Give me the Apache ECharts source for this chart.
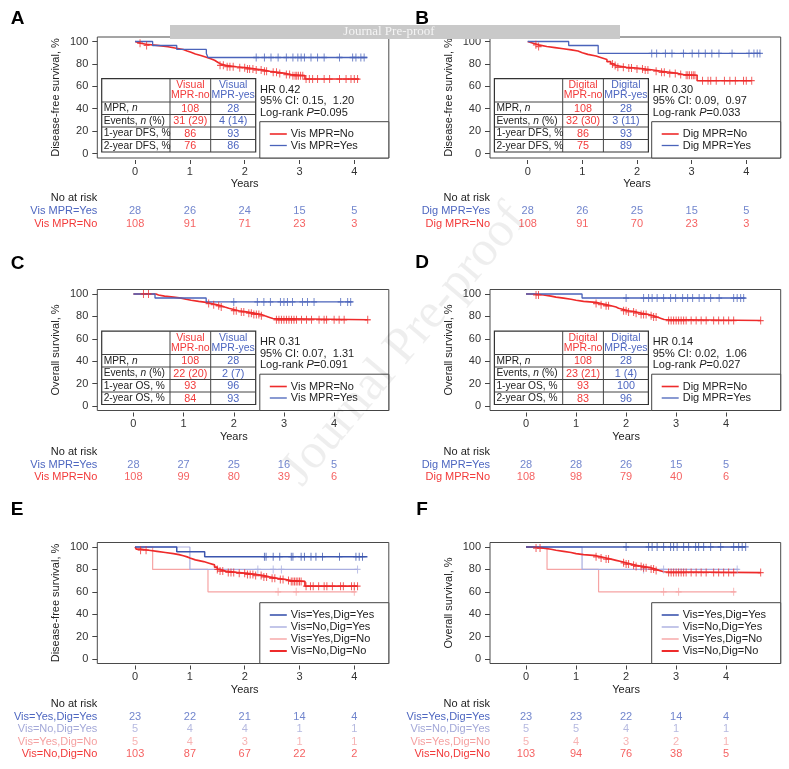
<!DOCTYPE html>
<html><head><meta charset="utf-8">
<script src="https://cdn.jsdelivr.net/npm/echarts@6/dist/echarts.min.js"></script>
<style>html,body{margin:0;padding:0;background:#fff}#c{width:789px;height:769px}</style>
</head><body><div id="c"></div>
<script>
// ---------------- DATA ----------------
const xTicks = [0, 1, 2, 3, 4];
const yTicks = [0, 20, 40, 60, 80, 100];
const riskTimes = [0, 1, 2, 3, 4];

// Panel A: DFS by visual MPR
const dfsVisNo = [[0,100],[0.02,98.5],[0.1,97.5],[0.2,96.5],[0.4,95.3],[0.6,94],[0.75,92.8],[0.88,91.5],[0.95,90.3],[1.02,88.8],[1.1,87.5],[1.2,86],[1.3,84.6],[1.38,83.2],[1.45,81.7],[1.5,80.2],[1.55,78.7],[1.65,77.5],[1.85,76.5],[2.05,75.5],[2.2,74.5],[2.35,73.5],[2.45,72.5],[2.6,71.5],[2.75,70.5],[2.85,69.5],[3.1,66.5]];
const dfsVisNoEnd = 4.09;
const dfsVisNoCens = [0.09,0.21,1.55,1.61,1.68,1.73,1.79,1.91,2.0,2.05,2.09,2.15,2.21,2.3,2.36,2.4,2.52,2.58,2.64,2.76,2.82,2.88,2.92,2.95,2.98,3.02,3.06,3.12,3.18,3.24,3.33,3.45,3.55,3.73,3.85,3.94,4.0,4.06];
const dfsVisYes = [[0,100],[0.32,96.4],[0.76,92.9],[1.3,89.3],[1.33,85.7]];
const dfsVisYesEnd = 4.24;
const dfsVisYesCens = [2.21,2.36,2.48,2.61,2.76,2.88,2.97,3.03,3.09,3.21,3.33,3.45,3.73,3.97,4.03,4.12,4.18];

// Panel B: DFS by digital MPR
const dfsDigNo = [[0,100],[0.02,98.5],[0.1,97],[0.2,95.5],[0.35,94.5],[0.5,93.5],[0.65,92.5],[0.8,91.5],[0.92,90],[1.0,88.5],[1.1,87],[1.25,85.5],[1.35,84],[1.45,82],[1.52,80],[1.57,78.5],[1.62,77],[1.8,76.3],[2.0,75.5],[2.15,74.5],[2.3,73.5],[2.45,72.5],[2.6,71.5],[2.75,70.5],[2.85,69.8],[3.1,65]];
const dfsDigNoEnd = 4.1;
const dfsDigNoCens = [0.15,0.2,1.55,1.6,1.65,1.75,1.85,1.9,2.0,2.1,2.15,2.2,2.35,2.45,2.5,2.6,2.7,2.8,2.9,2.93,2.96,3.0,3.03,3.06,3.2,3.3,3.35,3.45,3.6,3.7,3.8,3.95,4.0,4.1];
const dfsDigYes = [[0,100],[0.75,96.4],[1.29,89.3]];
const dfsDigYesEnd = 4.26;
const dfsDigYesCens = [2.27,2.36,2.52,2.64,2.85,3.01,3.13,3.25,3.37,3.5,3.74,4.05,4.14,4.2,4.25];

// Panel C: OS by visual MPR
const osVisNo = [[0,100],[0.45,99.1],[0.5,98.1],[0.62,97.2],[0.8,96.3],[0.95,95.3],[1.05,94.4],[1.15,93.4],[1.3,92.5],[1.45,91.5],[1.55,90.5],[1.65,89.5],[1.75,88.4],[1.82,87.3],[1.9,86.2],[2.0,85.1],[2.1,84],[2.25,82.9],[2.4,81.7],[2.55,80.5],[2.62,79.3],[2.7,78.1],[2.78,77]];
const osVisNoEnd = 4.67;
const osVisNoCens = [0.2,0.3,1.5,1.6,1.7,1.75,2.0,2.05,2.15,2.2,2.3,2.35,2.4,2.45,2.5,2.55,2.85,2.9,2.95,3.0,3.05,3.1,3.15,3.2,3.25,3.35,3.45,3.55,3.7,3.8,3.85,4.0,4.1,4.2,4.67];
const osVisYes = [[0,100],[0.43,96.4],[1.45,92.9]];
const osVisYesEnd = 4.37;
const osVisYesCens = [2.0,2.47,2.6,2.73,2.93,3.0,3.07,3.17,3.37,3.47,3.6,4.13,4.27,4.33];

// Panel D: OS by digital MPR
const osDigNo = [[0,100],[0.15,99.1],[0.35,98.1],[0.5,97.2],[0.6,96.3],[0.75,95.3],[0.9,94.4],[1.0,93.4],[1.15,92.5],[1.4,91.5],[1.5,90.5],[1.6,89.5],[1.7,88.4],[1.8,87.3],[1.85,86.2],[1.95,85.1],[2.05,84],[2.2,82.9],[2.3,81.7],[2.45,80.6],[2.55,79.4],[2.62,78.2],[2.7,77.2],[2.76,76.3]];
const osDigNoEnd = 4.69;
const osDigNoCens = [0.2,0.25,1.4,1.5,1.6,1.65,1.95,2.0,2.05,2.15,2.2,2.3,2.35,2.4,2.5,2.55,2.6,2.85,2.9,2.95,3.0,3.05,3.1,3.15,3.2,3.3,3.4,3.5,3.6,3.75,3.85,3.95,4.05,4.15,4.69];
const osDigYes = [[0,100],[1.12,96.4]];
const osDigYesEnd = 4.39;
const osDigYesCens = [2.0,2.35,2.45,2.52,2.62,2.75,2.89,2.99,3.13,3.23,3.33,3.46,3.56,3.69,3.86,4.15,4.22,4.29,4.35];

// Panel E: DFS by combined groups
const dfsYY = [[0,100],[0.76,95.7],[1.27,91.3]];
const dfsYYEnd = 4.24;
const dfsYYCens = [2.36,2.39,2.52,2.64,2.85,2.88,3.03,3.09,3.21,3.3,3.42,3.73,4.03,4.09,4.15];
const dfsNY = [[0,100],[1.0,80]];
const dfsNYEnd = 4.06;
const dfsNYCens = [2.24,2.52,2.67,4.06];
const dfsYN = [[0,100],[0.32,80],[1.33,60]];
const dfsYNEnd = 4.03;
const dfsYNCens = [2.61,2.94,4.0];
const dfsNN = [[0,100],[0.02,98.1],[0.1,97.1],[0.25,96.1],[0.4,95.1],[0.55,94.1],[0.7,93.2],[0.8,92.2],[0.88,91.2],[0.95,90.2],[1.0,88.5],[1.1,87],[1.25,85.5],[1.35,84],[1.45,82],[1.5,80],[1.55,78.5],[1.65,77.3],[1.85,76.5],[2.05,75.5],[2.2,74.5],[2.35,73.3],[2.45,72],[2.6,71],[2.75,70],[2.85,69.3],[3.1,65]];
const dfsNNEnd = 4.06;
const dfsNNCens = [0.1,0.2,1.5,1.55,1.6,1.7,1.75,1.8,1.9,2.0,2.05,2.1,2.15,2.2,2.3,2.35,2.4,2.5,2.55,2.65,2.7,2.8,2.85,2.88,2.91,2.94,2.97,3.0,3.03,3.12,3.2,3.25,3.35,3.45,3.5,3.6,3.75,3.8,3.95,4.0,4.06];

// Panel F: OS by combined groups
const osYY = [[0,100]];
const osYYEnd = 4.39;
const osYYCens = [2.0,2.45,2.52,2.62,2.75,2.89,2.95,3.02,3.15,3.25,3.39,3.45,3.55,3.69,3.89,4.15,4.25,4.32,4.39];
const osNY = [[0,100],[1.12,80]];
const osNYEnd = 4.25;
const osNYCens = [2.35,2.75,4.22];
const osYN = [[0,100],[0.42,80],[1.45,60]];
const osYNEnd = 4.19;
const osYNCens = [2.75,3.05,4.15];
const osNN = [[0,100],[0.15,99],[0.35,98],[0.5,97.1],[0.6,96.1],[0.75,95.1],[0.9,94.1],[1.0,93.2],[1.15,92.2],[1.4,91.2],[1.5,90.2],[1.6,89.2],[1.7,88.1],[1.8,87],[1.9,85.9],[2.0,84.8],[2.1,83.7],[2.2,82.6],[2.35,81.5],[2.5,80.3],[2.58,79.1],[2.66,77.9],[2.75,77.2]];
const osNNEnd = 4.69;
const osNNCens = [0.2,0.28,1.4,1.5,1.6,1.65,1.95,2.0,2.05,2.15,2.2,2.3,2.35,2.4,2.5,2.55,2.6,2.85,2.9,2.95,3.0,3.05,3.1,3.15,3.2,3.3,3.4,3.5,3.6,3.75,3.85,3.95,4.05,4.15,4.69];

// Numbers at risk
const riskA = [[28,26,24,15,5],[108,91,71,23,3]];
const riskB = [[28,26,25,15,5],[108,91,70,23,3]];
const riskC = [[28,27,25,16,5],[108,99,80,39,6]];
const riskD = [[28,28,26,15,5],[108,98,79,40,6]];
const riskE = [[23,22,21,14,4],[5,4,4,1,1],[5,4,3,1,1],[103,87,67,22,2]];
const riskF = [[23,23,22,14,4],[5,5,4,1,1],[5,4,3,2,1],[103,94,76,38,5]];

// Group labels
const labVis = ['Vis MPR=Yes','Vis MPR=No'];
const labDig = ['Dig MPR=Yes','Dig MPR=No'];
const labComb = ['Vis=Yes,Dig=Yes','Vis=No,Dig=Yes','Vis=Yes,Dig=No','Vis=No,Dig=No'];

// Summary tables
const headVisual = [['Visual','MPR-no'],['Visual','MPR-yes']];
const headDigital = [['Digital','MPR-no'],['Digital','MPR-yes']];
const rowsDFS = ['MPR, {i|n}','Events, {i|n} (%)','1-year DFS, %','2-year DFS, %'];
const rowsOS = ['MPR, {i|n}','Events, {i|n} (%)','1-year OS, %','2-year OS, %'];
const tabA = [['108','31 (29)','86','76'],['28','4 (14)','93','86']];
const tabB = [['108','32 (30)','86','75'],['28','3 (11)','93','89']];
const tabC = [['108','22 (20)','93','84'],['28','2 (7)','96','93']];
const tabD = [['108','23 (21)','93','83'],['28','1 (4)','100','96']];
const statsA = ['HR 0.42','95% CI: 0.15,  1.20','Log-rank {i|P}=0.095'];
const statsB = ['HR 0.30','95% CI: 0.09,  0.97','Log-rank {i|P}=0.033'];
const statsC = ['HR 0.31','95% CI: 0.07,  1.31','Log-rank {i|P}=0.091'];
const statsD = ['HR 0.14','95% CI: 0.02,  1.06','Log-rank {i|P}=0.027'];

// ---------------- STYLE / LAYOUT ----------------
const FF = "'Liberation Sans', Arial, Helvetica, sans-serif";
const SERIF = "'Liberation Serif', 'Times New Roman', serif";
const RED = '#ee2b2b', BLUE = '#4a63ba', DBLUE = '#3b55ae', LBLUE = '#a9aee0', PINK = '#f6a4a4';
const RED_T = '#f23a3a', BLUE_T = '#4d66c0', LBLUE_T = '#a3a8d8', PINK_T = '#f5a0a0';

const colLeft = [97.3, 490], colWidth = [291.5, 290.7];
const rowTop = [37, 289.5, 542.5], plotH = 121;
const riskTop = [191.9, 445.3, 698.1], riskH = [38.4, 38.4, 62];
const rangeShort = [-0.69, 4.63], rangeLong = [-0.72, 5.09];

const panels = [
  {letter:'A', lxy:[17.5,19], col:0, row:0, xr:rangeShort, yName:'Disease-free survival, %',
   curves:[{name:'Vis MPR=No', pts:dfsVisNo, end:dfsVisNoEnd, cens:dfsVisNoCens, color:RED, w:1.6},
           {name:'Vis MPR=Yes', pts:dfsVisYes, end:dfsVisYesEnd, cens:dfsVisYesCens, color:BLUE, w:1.3}],
   riskLab:labVis, risk:riskA, riskCol:[BLUE_T, RED_T],
   table:{head:headVisual, rows:rowsDFS, vals:tabA}, stats:statsA,
   legend:[{name:'Vis MPR=No', color:RED, w:1.6},{name:'Vis MPR=Yes', color:BLUE, w:1.3}]},
  {letter:'B', lxy:[422,19], col:1, row:0, xr:rangeShort, yName:'Disease-free survival, %',
   curves:[{name:'Dig MPR=No', pts:dfsDigNo, end:dfsDigNoEnd, cens:dfsDigNoCens, color:RED, w:1.6},
           {name:'Dig MPR=Yes', pts:dfsDigYes, end:dfsDigYesEnd, cens:dfsDigYesCens, color:BLUE, w:1.3}],
   riskLab:labDig, risk:riskB, riskCol:[BLUE_T, RED_T],
   table:{head:headDigital, rows:rowsDFS, vals:tabB}, stats:statsB,
   legend:[{name:'Dig MPR=No', color:RED, w:1.6},{name:'Dig MPR=Yes', color:BLUE, w:1.3}]},
  {letter:'C', lxy:[17.5,264], col:0, row:1, xr:rangeLong, yName:'Overall survival, %',
   curves:[{name:'Vis MPR=No', pts:osVisNo, end:osVisNoEnd, cens:osVisNoCens, color:RED, w:1.6},
           {name:'Vis MPR=Yes', pts:osVisYes, end:osVisYesEnd, cens:osVisYesCens, color:BLUE, w:1.3}],
   riskLab:labVis, risk:riskC, riskCol:[BLUE_T, RED_T],
   table:{head:headVisual, rows:rowsOS, vals:tabC}, stats:statsC,
   legend:[{name:'Vis MPR=No', color:RED, w:1.6},{name:'Vis MPR=Yes', color:BLUE, w:1.3}]},
  {letter:'D', lxy:[422,263], col:1, row:1, xr:rangeLong, yName:'Overall survival, %',
   curves:[{name:'Dig MPR=No', pts:osDigNo, end:osDigNoEnd, cens:osDigNoCens, color:RED, w:1.6},
           {name:'Dig MPR=Yes', pts:osDigYes, end:osDigYesEnd, cens:osDigYesCens, color:BLUE, w:1.3}],
   riskLab:labDig, risk:riskD, riskCol:[BLUE_T, RED_T],
   table:{head:headDigital, rows:rowsOS, vals:tabD}, stats:statsD,
   legend:[{name:'Dig MPR=No', color:RED, w:1.6},{name:'Dig MPR=Yes', color:BLUE, w:1.3}]},
  {letter:'E', lxy:[17,510], col:0, row:2, xr:rangeShort, yName:'Disease-free survival, %',
   curves:[{name:'Vis=Yes,Dig=No', pts:dfsYN, end:dfsYNEnd, cens:dfsYNCens, color:PINK, w:1.2},
           {name:'Vis=No,Dig=Yes', pts:dfsNY, end:dfsNYEnd, cens:dfsNYCens, color:LBLUE, w:1.2},
           {name:'Vis=No,Dig=No', pts:dfsNN, end:dfsNNEnd, cens:dfsNNCens, color:RED, w:1.7},
           {name:'Vis=Yes,Dig=Yes', pts:dfsYY, end:dfsYYEnd, cens:dfsYYCens, color:DBLUE, w:1.5}],
   riskLab:labComb, risk:riskE, riskCol:[BLUE_T, LBLUE_T, PINK_T, RED_T],
   legend:[{name:'Vis=Yes,Dig=Yes', color:DBLUE, w:1.6},{name:'Vis=No,Dig=Yes', color:LBLUE, w:1.4},
           {name:'Vis=Yes,Dig=No', color:PINK, w:1.4},{name:'Vis=No,Dig=No', color:RED, w:2}]},
  {letter:'F', lxy:[422,510], col:1, row:2, xr:rangeLong, yName:'Overall survival, %',
   curves:[{name:'Vis=Yes,Dig=No', pts:osYN, end:osYNEnd, cens:osYNCens, color:PINK, w:1.2},
           {name:'Vis=No,Dig=Yes', pts:osNY, end:osNYEnd, cens:osNYCens, color:LBLUE, w:1.2},
           {name:'Vis=No,Dig=No', pts:osNN, end:osNNEnd, cens:osNNCens, color:RED, w:1.7},
           {name:'Vis=Yes,Dig=Yes', pts:osYY, end:osYYEnd, cens:osYYCens, color:DBLUE, w:1.5}],
   riskLab:labComb, risk:riskF, riskCol:[BLUE_T, LBLUE_T, PINK_T, RED_T],
   legend:[{name:'Vis=Yes,Dig=Yes', color:DBLUE, w:1.6},{name:'Vis=No,Dig=Yes', color:LBLUE, w:1.4},
           {name:'Vis=Yes,Dig=No', color:PINK, w:1.4},{name:'Vis=No,Dig=No', color:RED, w:2}]}
];

// ---------------- HELPERS ----------------
function survAt(pts, t) { let s = pts[0][1]; for (const p of pts) { if (p[0] <= t) s = p[1]; } return s; }
function richFor(size, color) { return { i: { fontStyle:'italic', fontSize:size, fontFamily:FF, fill:color } }; }
function txt(x, y, text, o) {
  o = o || {};
  const size = o.size || 11, color = o.color || '#222';
  const st = { text, fill:color, fontSize:size, fontFamily:o.family || FF, fontWeight:o.weight || 'normal',
    align:o.align || 'left', verticalAlign:'middle', textAlign:o.align || 'left', textVerticalAlign:'middle' };
  if (text.indexOf('{i|') >= 0) st.rich = richFor(size, color);
  return { type:'text', x, y, rotation:o.rot || 0, z:o.z || 50, silent:true, style:st };
}
function ln(x1, y1, x2, y2, color, w, z) {
  return { type:'line', silent:true, z:z || 45, shape:{x1, y1, x2, y2}, style:{stroke:color, lineWidth:w} };
}
function rc(x, y, w, h, fill, stroke, lw, z) {
  return { type:'rect', silent:true, z:z || 40, shape:{x, y, width:w, height:h}, style:{fill, stroke, lineWidth:lw} };
}

const grids = [], xAxes = [], yAxes = [], series = [], graphics = [];
const CENSOR = 'path://M5,0L5,10M0,5L10,5';

panels.forEach((p) => {
  const gl = colLeft[p.col], gw = colWidth[p.col], gt = rowTop[p.row];
  const gi = grids.length;
  grids.push({ left:gl, top:gt, width:gw, height:plotH, show:true, borderColor:'#4a4a4a', borderWidth:1, backgroundColor:'transparent', containLabel:false });
  xAxes.push({ gridIndex:gi, type:'value', min:p.xr[0], max:p.xr[1], offset:2, position:'bottom',
    axisLine:{show:false, onZero:false}, splitLine:{show:false},
    axisTick:{show:true, customValues:xTicks, length:4, lineStyle:{color:'#444', width:1}},
    axisLabel:{customValues:xTicks, margin:6, fontSize:11, color:'#333', fontFamily:FF} });
  yAxes.push({ gridIndex:gi, type:'value', min:-4, max:104, position:'left', name:p.yName, nameLocation:'middle', nameRotate:90, nameGap:36,
    nameTextStyle:{fontSize:11, color:'#222', fontFamily:FF},
    axisLine:{show:false, onZero:false}, splitLine:{show:false},
    axisTick:{show:true, customValues:yTicks, length:5, lineStyle:{color:'#444', width:1}},
    axisLabel:{customValues:yTicks, margin:9, fontSize:11, color:'#333', fontFamily:FF} });
  p.curves.forEach(c => {
    const last = c.pts[c.pts.length - 1][1];
    series.push({ type:'line', name:c.name, xAxisIndex:gi, yAxisIndex:gi, step:'end', symbol:'none', silent:true,
      data:c.pts.concat([[c.end, last]]), lineStyle:{color:c.color, width:c.w}, itemStyle:{color:c.color}, z:3 });
    series.push({ type:'scatter', name:c.name + ' censored', xAxisIndex:gi, yAxisIndex:gi, symbol:CENSOR, symbolSize:[6,8], silent:true,
      data:c.cens.map(t => [t, survAt(c.pts, t)]),
      itemStyle:{color:'transparent', borderColor:c.color, borderWidth:1.1}, z:4 });
  });
  // risk table grid
  const ri = grids.length;
  grids.push({ left:gl, top:riskTop[p.row], width:gw, height:riskH[p.row], show:false });
  xAxes.push({ gridIndex:ri, type:'value', min:p.xr[0], max:p.xr[1], show:false, axisLine:{onZero:false} });
  const cols = p.riskCol;
  yAxes.push({ gridIndex:ri, type:'category', inverse:true, position:'left', data:['No at risk'].concat(p.riskLab),
    axisLine:{show:false, onZero:false}, axisTick:{show:false}, splitLine:{show:false},
    axisLabel:{interval:0, margin:0, fontSize:11, fontFamily:FF, color:(v, idx) => idx === 0 ? '#222' : cols[idx - 1]} });
  p.risk.forEach((vals, k) => {
    series.push({ type:'scatter', name:p.riskLab[k] + ' at risk', xAxisIndex:ri, yAxisIndex:ri, symbolSize:1, silent:true,
      itemStyle:{color:'transparent'},
      data:riskTimes.map((t, j) => [t, k + 1, vals[j]]),
      label:{show:true, position:'inside', formatter:q => String(q.value[2]), color:cols[k], fontSize:11, fontFamily:FF} });
  });
  // Years label at t = 2
  const x2 = gl + (2 - p.xr[0]) / (p.xr[1] - p.xr[0]) * gw;
  graphics.push(txt(x2, gt + plotH + 26, 'Years', {align:'center', size:11}));
  // panel letter
  graphics.push(txt(p.lxy[0], p.lxy[1], p.letter, {align:'center', size:19, weight:'bold', color:'#000'}));
  // summary table
  if (p.table) {
    const tx = gl + 4.4, ty = gt + 41.7;
    const cw = [68.3, 40.7, 45], hh = 23.3, rh = 12.5;
    const W = cw[0] + cw[1] + cw[2], H = hh + rh * p.table.rows.length;
    graphics.push(rc(tx, ty, W, H, '#fff', '#333', 1.2, 40));
    graphics.push(ln(tx + cw[0], ty, tx + cw[0], ty + H, '#444', 1));
    graphics.push(ln(tx + cw[0] + cw[1], ty, tx + cw[0] + cw[1], ty + H, '#444', 1));
    for (let i = 0; i < p.table.rows.length; i++) graphics.push(ln(tx, ty + hh + rh * i, tx + W, ty + hh + rh * i, '#444', 1));
    const cx = [tx + cw[0] + cw[1] / 2, tx + cw[0] + cw[1] + cw[2] / 2];
    const tcol = [RED_T, BLUE_T];
    [0, 1].forEach(c => {
      graphics.push(txt(cx[c], ty + 6.8, p.table.head[c][0], {align:'center', size:10.5, color:tcol[c]}));
      graphics.push(txt(cx[c], ty + 16.8, p.table.head[c][1], {align:'center', size:10.5, color:tcol[c]}));
      p.table.vals[c].forEach((v, r) => graphics.push(txt(cx[c], ty + hh + rh * r + 6.6, v, {align:'center', size:10.8, color:tcol[c]})));
    });
    p.table.rows.forEach((lab, r) => graphics.push(txt(tx + 2, ty + hh + rh * r + 6.6, lab, {size:10.2, color:'#222'})));
    // stats
    p.stats.forEach((s, k) => graphics.push(txt(tx + 158.3, ty + 11 + 11.4 * k, s, {size:11, color:'#222'})));
  }
  // legend
  const right = gl + gw, bottom = gt + plotH;
  const isComb = p.legend.length > 2;
  const lTop = gt + (isComb ? 60.2 : 84.7), left = right - 129;
  graphics.push(rc(left, lTop, right - left, bottom - lTop, '#fff', '#444', 1, 40));
  p.legend.forEach((e, i) => {
    const y = gt + (isComb ? 72.5 + 12 * i : 97 + 11.5 * i);
    graphics.push(ln(left + 10, y, left + 27, y, e.color, e.w, 46));
    graphics.push(txt(left + 31, y, e.name, {size:11}));
  });
});

// journal banner and watermark
graphics.push(rc(170, 25, 450, 14, '#c9c9c9', null, 0, 100));
graphics.push(txt(389, 32, 'Journal Pre-proof', {align:'center', size:13, family:SERIF, color:'#f4f4f4', z:101}));
graphics.push(txt(405, 345, 'Journal Pre-proof', {align:'center', size:50, family:SERIF, color:'rgba(0,0,0,0.065)', rot:0.87, z:99}));

const chart = echarts.init(document.getElementById('c'), null, {renderer:'canvas'});
chart.setOption({
  animation:false,
  backgroundColor:'#ffffff',
  textStyle:{fontFamily:FF},
  grid:grids, xAxis:xAxes, yAxis:yAxes, series:series,
  graphic:{elements:graphics}
});
</script></body></html>
